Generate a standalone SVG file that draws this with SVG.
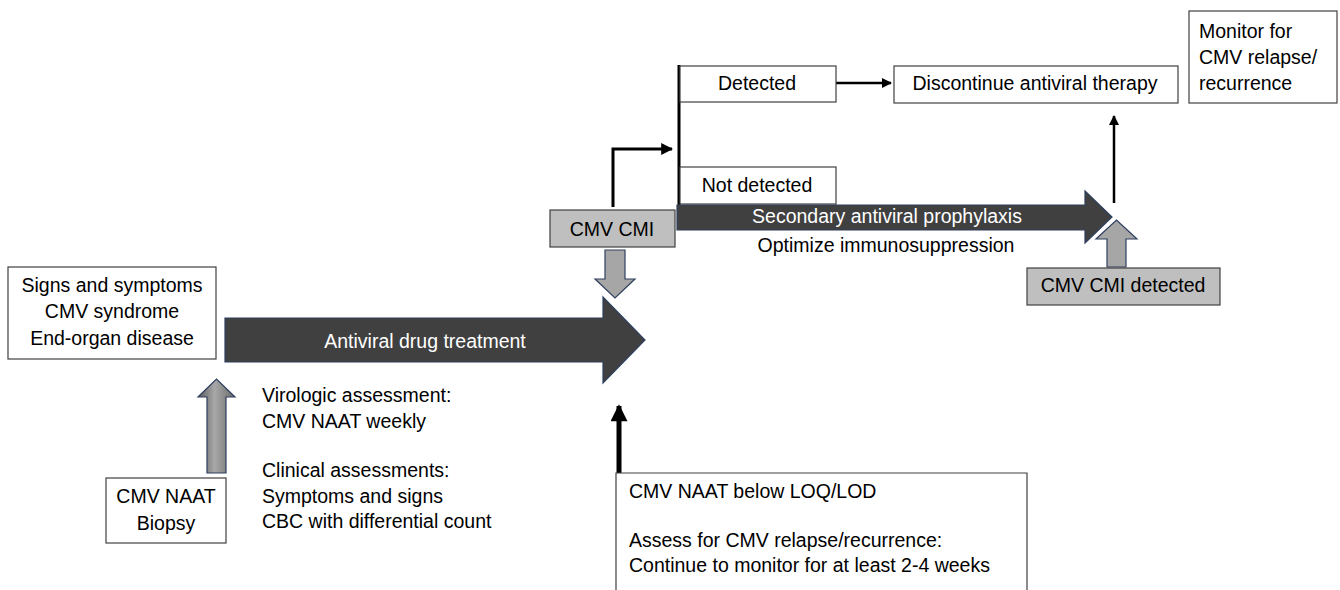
<svg xmlns="http://www.w3.org/2000/svg" width="1340" height="590" viewBox="0 0 1340 590">
<defs>
<style>
text{font-family:"Liberation Sans",Arial,sans-serif;font-size:19.5px;fill:#000}
.c{text-anchor:middle}
.w{fill:#fff}
.box{fill:#fff;stroke:#404040;stroke-width:1.2}
.gbox{fill:#bfbfbf;stroke:#404040;stroke-width:1.2}
.dark{fill:#404040;stroke:#2f3f5f;stroke-width:1.2}
.garr{fill:#a6a6a6;stroke:#2f3f5f;stroke-width:1.2}
.ln{fill:none;stroke:#000}
</style>
<linearGradient id="bev" x1="0" y1="0" x2="1" y2="0">
<stop offset="0" stop-color="#5a5a5a"/>
<stop offset="0.45" stop-color="#a8a8a8"/>
<stop offset="1" stop-color="#6a6a6a"/>
</linearGradient>
<marker id="ah" viewBox="0 0 10 10" refX="9" refY="5" markerWidth="4" markerHeight="4" orient="auto" markerUnits="strokeWidth">
<path d="M0,0 L10,5 L0,10 z" fill="#000"/>
</marker>
<marker id="ah2" viewBox="0 0 10 10" refX="9" refY="5" markerWidth="3.6" markerHeight="3.4" orient="auto" markerUnits="strokeWidth">
<path d="M0,0 L10,5 L0,10 z" fill="#000"/>
</marker>
</defs>

<g id="connectors">
<polyline class="ln" style="stroke-width:3" points="613,207 613,149 672,149" marker-end="url(#ah)"/>
<line class="ln" style="stroke-width:3" x1="679" y1="65" x2="679" y2="205"/>
<line class="ln" style="stroke-width:2.5" x1="836" y1="83" x2="891" y2="83" marker-end="url(#ah)"/>
<line class="ln" style="stroke-width:2.5" x1="1114" y1="203" x2="1114" y2="116" marker-end="url(#ah)"/>
<line class="ln" style="stroke-width:5" x1="619" y1="473" x2="619" y2="406" marker-end="url(#ah2)"/>
</g>

<g id="signs">
<rect class="box" x="8" y="267" width="208" height="92"/>
<text class="c" x="112" y="292">Signs and symptoms</text>
<text class="c" x="112" y="318">CMV syndrome</text>
<text class="c" x="112" y="345">End-organ disease</text>
</g>

<g id="antiviral-arrow">
<path class="dark" d="M225,318 H603 V297 L645,340 L603,383 V362 H225 Z"/>
<text class="c w" x="425" y="348">Antiviral drug treatment</text>
</g>

<g id="naat-up-arrow">
<path d="M207,473 V397 H198 L216.5,379 L235,397 H226 V473 Z" fill="url(#bev)" stroke="#2f3f5f" stroke-width="1.2"/>
</g>

<g id="naat-biopsy">
<rect class="box" x="106" y="478" width="120" height="65"/>
<text class="c" x="166" y="503">CMV NAAT</text>
<text class="c" x="166" y="530">Biopsy</text>
</g>

<g id="assessments">
<text x="262" y="402">Virologic assessment:</text>
<text x="262" y="428">CMV NAAT weekly</text>
<text x="262" y="477">Clinical assessments:</text>
<text x="262" y="503">Symptoms and signs</text>
<text x="262" y="528">CBC with differential count</text>
</g>

<g id="cmv-cmi">
<rect class="gbox" x="550" y="210" width="125" height="37"/>
<text class="c" x="612" y="236">CMV CMI</text>
</g>

<g id="cmi-down-arrow">
<path class="garr" d="M605,250 H625 V279 H635 L615,298 L595,279 H605 Z"/>
</g>

<g id="detected">
<rect class="box" x="680" y="66" width="156" height="36"/>
<text class="c" x="757" y="90">Detected</text>
</g>

<g id="not-detected">
<rect class="box" x="680" y="167" width="156" height="37"/>
<text class="c" x="757" y="192">Not detected</text>
</g>

<g id="secondary-arrow">
<path class="dark" d="M677,205 H1085 V191 L1112,217 L1085,243 V230 H677 Z"/>
<text class="c w" x="887" y="223">Secondary antiviral prophylaxis</text>
<text class="c" x="886" y="252">Optimize immunosuppression</text>
</g>

<g id="discontinue">
<rect class="box" x="894" y="66" width="284" height="37"/>
<text class="c" x="1035" y="90">Discontinue antiviral therapy</text>
</g>

<g id="monitor">
<rect class="box" x="1189" y="11" width="148" height="92"/>
<text x="1199" y="38">Monitor for</text>
<text x="1199" y="64">CMV relapse/</text>
<text x="1199" y="90">recurrence</text>
</g>

<g id="cmi-detected-arrow">
<path class="garr" d="M1107,267 V239 H1096 L1116.5,220 L1137,239 H1126 V267 Z"/>
</g>

<g id="cmi-detected">
<rect class="gbox" x="1027" y="268" width="193" height="37"/>
<text class="c" x="1123" y="292">CMV CMI detected</text>
</g>

<g id="naat-below">
<path d="M616,600 V473 H1027 V600" fill="#fff" stroke="#404040" stroke-width="1.2"/>
<text x="629" y="498">CMV NAAT below LOQ/LOD</text>
<text x="629" y="547">Assess for CMV relapse/recurrence:</text>
<text x="629" y="572">Continue to monitor for at least 2-4 weeks</text>
</g>
</svg>
